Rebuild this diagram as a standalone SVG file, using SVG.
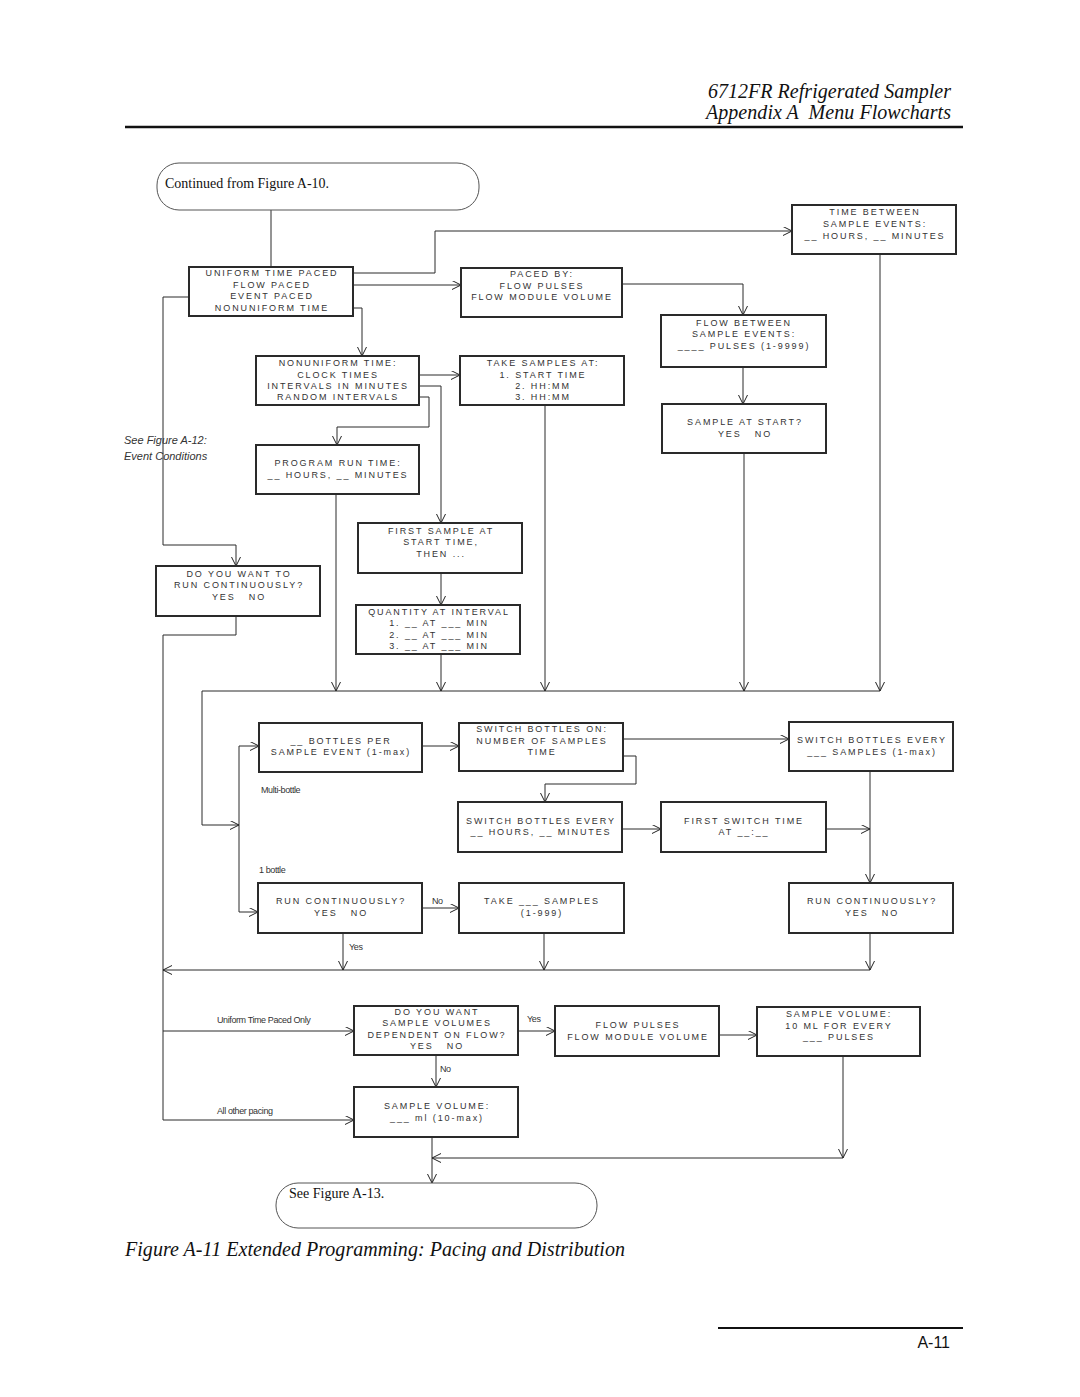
<svg xmlns="http://www.w3.org/2000/svg" width="1080" height="1397" viewBox="0 0 1080 1397">
<defs>
<marker id="arr" markerWidth="10" markerHeight="10" refX="9" refY="4.5" orient="auto" markerUnits="userSpaceOnUse">
<path d="M0,0 L9,4.5 L0,9" fill="none" stroke="#222" stroke-width="1"/>
</marker>
</defs>
<style>
.box{fill:#fff;stroke:#2a2a2a;stroke-width:2}
.term{fill:#fff;stroke:#555;stroke-width:1}
.bt{font-family:"Liberation Sans",Arial,sans-serif;font-size:9px;letter-spacing:1.9px;fill:#333;text-anchor:middle;white-space:pre}
.lbl{font-family:"Liberation Sans",Arial,sans-serif;font-size:9px;letter-spacing:-0.4px;fill:#333}
.c{fill:none;stroke:#2a2a2a;stroke-width:1}
.a{marker-end:url(#arr)}
.hdr{font-family:"Liberation Serif","Times New Roman",serif;font-style:italic;font-size:20px;fill:#111;white-space:pre}
.ser{font-family:"Liberation Serif","Times New Roman",serif;font-size:14px;fill:#111}
.note{font-family:"Liberation Sans",Arial,sans-serif;font-style:italic;font-size:11px;fill:#333}
</style>
<rect width="1080" height="1397" fill="#fff"/>

<!-- header -->
<text class="hdr" x="951" y="98" text-anchor="end" textLength="243">6712FR Refrigerated Sampler</text>
<text class="hdr" x="951" y="119" text-anchor="end" textLength="245">Appendix A  Menu Flowcharts</text>
<line x1="125" y1="127" x2="963" y2="127" stroke="#111" stroke-width="2.5"/>

<!-- connectors -->
<g id="connectors">
<polyline class="c" points="271,210 271,267"/>
<polyline class="c a" points="353,273 435,273 435,231 792,231"/>
<polyline class="c a" points="353,285 461,285"/>
<polyline class="c a" points="189,297 163,297 163,545 236,545 236,566"/>
<polyline class="c a" points="353,308 362,308 362,356"/>
<polyline class="c a" points="622,284 743,284 743,315"/>
<polyline class="c a" points="880,254 880,691"/>
<polyline class="c a" points="743,367 743,404"/>
<polyline class="c a" points="744,453 744,691"/>
<polyline class="c a" points="419,375 460,375"/>
<polyline class="c a" points="419,386 441,386 441,523"/>
<polyline class="c a" points="419,397 429,397 429,427 337,427 337,445"/>
<polyline class="c a" points="336,494 336,691"/>
<polyline class="c a" points="545,405 545,691"/>
<polyline class="c a" points="441,573 441,605"/>
<polyline class="c a" points="441,654 441,691"/>
<polyline class="c a" points="236,616 236,635 163,635 163,1120 354,1120"/>
<polyline class="c a" points="880,691 202,691 202,825 239,825"/>
<polyline class="c a" points="239,746 259,746"/>
<polyline class="c a" points="239,746 239,912 258,912"/>
<polyline class="c a" points="422,746 459,746"/>
<polyline class="c a" points="623,739 789,739"/>
<polyline class="c a" points="623,756 636,756 636,784 545,784 545,802"/>
<polyline class="c a" points="622,829 661,829"/>
<polyline class="c a" points="826,829 870,829"/>
<polyline class="c a" points="870,771 870,883"/>
<polyline class="c a" points="422,908 459,908"/>
<polyline class="c a" points="343,933 343,970"/>
<polyline class="c a" points="544,933 544,970"/>
<polyline class="c a" points="870,933 870,970"/>
<polyline class="c a" points="870,970 163,970"/>
<polyline class="c a" points="163,1031 354,1031"/>
<polyline class="c a" points="518,1031 555,1031"/>
<polyline class="c a" points="719,1035 757,1035"/>
<polyline class="c a" points="436,1055 436,1087"/>
<polyline class="c a" points="843,1056 843,1158"/>
<polyline class="c a" points="843,1158 432,1158"/>
<polyline class="c a" points="432,1137 432,1183"/>
<text class="lbl" x="261" y="793">Multi-bottle</text>
<text class="lbl" x="259" y="873">1 bottle</text>
<text class="lbl" x="432" y="904">No</text>
<text class="lbl" x="349" y="950">Yes</text>
<text class="lbl" x="217" y="1023">Uniform Time Paced Only</text>
<text class="lbl" x="527" y="1022">Yes</text>
<text class="lbl" x="440" y="1072">No</text>
<text class="lbl" x="217" y="1114">All other pacing</text>
</g>

<text class="note" x="124" y="444">See Figure A-12:</text>
<text class="note" x="124" y="460">Event Conditions</text>

<!-- nodes -->
<g id="start">
<rect class="term" x="157" y="163" width="322" height="47" rx="22" ry="22"/>
<text class="ser" x="165" y="188">Continued from Figure A-10.</text>
</g>

<g id="uniform">
<rect class="box" x="189" y="267" width="164" height="49"/>
<text class="bt" x="272" y="276">UNIFORM TIME PACED</text>
<text class="bt" x="272" y="288">FLOW PACED</text>
<text class="bt" x="272" y="299">EVENT PACED</text>
<text class="bt" x="272" y="311">NONUNIFORM TIME</text>
</g>

<g id="pacedby">
<rect class="box" x="461" y="268" width="161" height="49"/>
<text class="bt" x="542" y="277">PACED BY:</text>
<text class="bt" x="542" y="289">FLOW PULSES</text>
<text class="bt" x="542" y="300">FLOW MODULE VOLUME</text>
</g>

<g id="timebetween">
<rect class="box" x="792" y="205" width="164" height="49"/>
<text class="bt" x="875" y="215">TIME BETWEEN</text>
<text class="bt" x="875" y="227">SAMPLE EVENTS:</text>
<text class="bt" x="875" y="239">__ HOURS, __ MINUTES</text>
</g>

<g id="flowbetween">
<rect class="box" x="661" y="315" width="165" height="52"/>
<text class="bt" x="744" y="326">FLOW BETWEEN</text>
<text class="bt" x="744" y="337">SAMPLE EVENTS:</text>
<text class="bt" x="744" y="349">____ PULSES (1-9999)</text>
</g>

<g id="nonuniform">
<rect class="box" x="256" y="356" width="163" height="49"/>
<text class="bt" x="338" y="366">NONUNIFORM TIME:</text>
<text class="bt" x="338" y="378">CLOCK TIMES</text>
<text class="bt" x="338" y="389">INTERVALS IN MINUTES</text>
<text class="bt" x="338" y="400">RANDOM INTERVALS</text>
</g>

<g id="takesamples">
<rect class="box" x="460" y="356" width="164" height="49"/>
<text class="bt" x="543" y="366">TAKE SAMPLES AT:</text>
<text class="bt" x="543" y="378">1. START TIME</text>
<text class="bt" x="543" y="389">2. HH:MM</text>
<text class="bt" x="543" y="400">3. HH:MM</text>
</g>

<g id="samplestart">
<rect class="box" x="662" y="404" width="164" height="49"/>
<text class="bt" x="745" y="425">SAMPLE AT START?</text>
<text class="bt" x="745" y="437">YES   NO</text>
</g>

<g id="programrun">
<rect class="box" x="256" y="445" width="163" height="49"/>
<text class="bt" x="338" y="466">PROGRAM RUN TIME:</text>
<text class="bt" x="338" y="478">__ HOURS, __ MINUTES</text>
</g>

<g id="firstsample">
<rect class="box" x="358" y="523" width="164" height="50"/>
<text class="bt" x="441" y="534">FIRST SAMPLE AT</text>
<text class="bt" x="441" y="545">START TIME,</text>
<text class="bt" x="441" y="557">THEN ...</text>
</g>

<g id="quantity">
<rect class="box" x="356" y="605" width="164" height="49"/>
<text class="bt" x="439" y="615">QUANTITY AT INTERVAL</text>
<text class="bt" x="439" y="626">1. __ AT ___ MIN</text>
<text class="bt" x="439" y="638">2. __ AT ___ MIN</text>
<text class="bt" x="439" y="649">3. __ AT ___ MIN</text>
</g>

<g id="runcontq">
<rect class="box" x="156" y="566" width="164" height="50"/>
<text class="bt" x="239" y="577">DO YOU WANT TO</text>
<text class="bt" x="239" y="588">RUN CONTINUOUSLY?</text>
<text class="bt" x="239" y="600">YES   NO</text>
</g>

<g id="bottlesper">
<rect class="box" x="259" y="723" width="163" height="49"/>
<text class="bt" x="341" y="744">__ BOTTLES PER</text>
<text class="bt" x="341" y="755">SAMPLE EVENT (1-max)</text>
</g>

<g id="switchon">
<rect class="box" x="459" y="723" width="164" height="48"/>
<text class="bt" x="542" y="732">SWITCH BOTTLES ON:</text>
<text class="bt" x="542" y="744">NUMBER OF SAMPLES</text>
<text class="bt" x="542" y="755">TIME</text>
</g>

<g id="switchsamples">
<rect class="box" x="789" y="722" width="164" height="49"/>
<text class="bt" x="872" y="743">SWITCH BOTTLES EVERY</text>
<text class="bt" x="872" y="755">___ SAMPLES (1-max)</text>
</g>

<g id="switchhours">
<rect class="box" x="458" y="802" width="164" height="50"/>
<text class="bt" x="541" y="824">SWITCH BOTTLES EVERY</text>
<text class="bt" x="541" y="835">__ HOURS, __ MINUTES</text>
</g>

<g id="firstswitch">
<rect class="box" x="661" y="802" width="165" height="50"/>
<text class="bt" x="744" y="824">FIRST SWITCH TIME</text>
<text class="bt" x="744" y="835">AT __:__</text>
</g>

<g id="runcontL">
<rect class="box" x="258" y="883" width="164" height="50"/>
<text class="bt" x="341" y="904">RUN CONTINUOUSLY?</text>
<text class="bt" x="341" y="916">YES   NO</text>
</g>

<g id="takesamp">
<rect class="box" x="459" y="883" width="165" height="50"/>
<text class="bt" x="542" y="904">TAKE ___ SAMPLES</text>
<text class="bt" x="542" y="916">(1-999)</text>
</g>

<g id="runcontR">
<rect class="box" x="789" y="883" width="164" height="50"/>
<text class="bt" x="872" y="904">RUN CONTINUOUSLY?</text>
<text class="bt" x="872" y="916">YES   NO</text>
</g>

<g id="flowdep">
<rect class="box" x="354" y="1006" width="164" height="49"/>
<text class="bt" x="437" y="1015">DO YOU WANT</text>
<text class="bt" x="437" y="1026">SAMPLE VOLUMES</text>
<text class="bt" x="437" y="1038">DEPENDENT ON FLOW?</text>
<text class="bt" x="437" y="1049">YES   NO</text>
</g>

<g id="flowpulses">
<rect class="box" x="555" y="1006" width="164" height="50"/>
<text class="bt" x="638" y="1028">FLOW PULSES</text>
<text class="bt" x="638" y="1040">FLOW MODULE VOLUME</text>
</g>

<g id="vol10">
<rect class="box" x="757" y="1007" width="163" height="49"/>
<text class="bt" x="839" y="1017">SAMPLE VOLUME:</text>
<text class="bt" x="839" y="1029">10 ML FOR EVERY</text>
<text class="bt" x="839" y="1040">___ PULSES</text>
</g>

<g id="volml">
<rect class="box" x="354" y="1087" width="164" height="50"/>
<text class="bt" x="437" y="1109">SAMPLE VOLUME:</text>
<text class="bt" x="437" y="1121">___ ml (10-max)</text>
</g>

<g id="end">
<rect class="term" x="276" y="1183" width="321" height="45" rx="22" ry="22"/>
<text class="ser" x="289" y="1198">See Figure A-13.</text>
</g>

<!-- caption and footer -->
<text class="hdr" x="125" y="1256" textLength="500">Figure A-11 Extended Programming: Pacing and Distribution</text>
<line x1="718" y1="1328" x2="963" y2="1328" stroke="#111" stroke-width="2"/>
<text x="950" y="1348" text-anchor="end" font-family="Liberation Sans,Arial,sans-serif" font-size="16" fill="#111">A-11</text>
</svg>
